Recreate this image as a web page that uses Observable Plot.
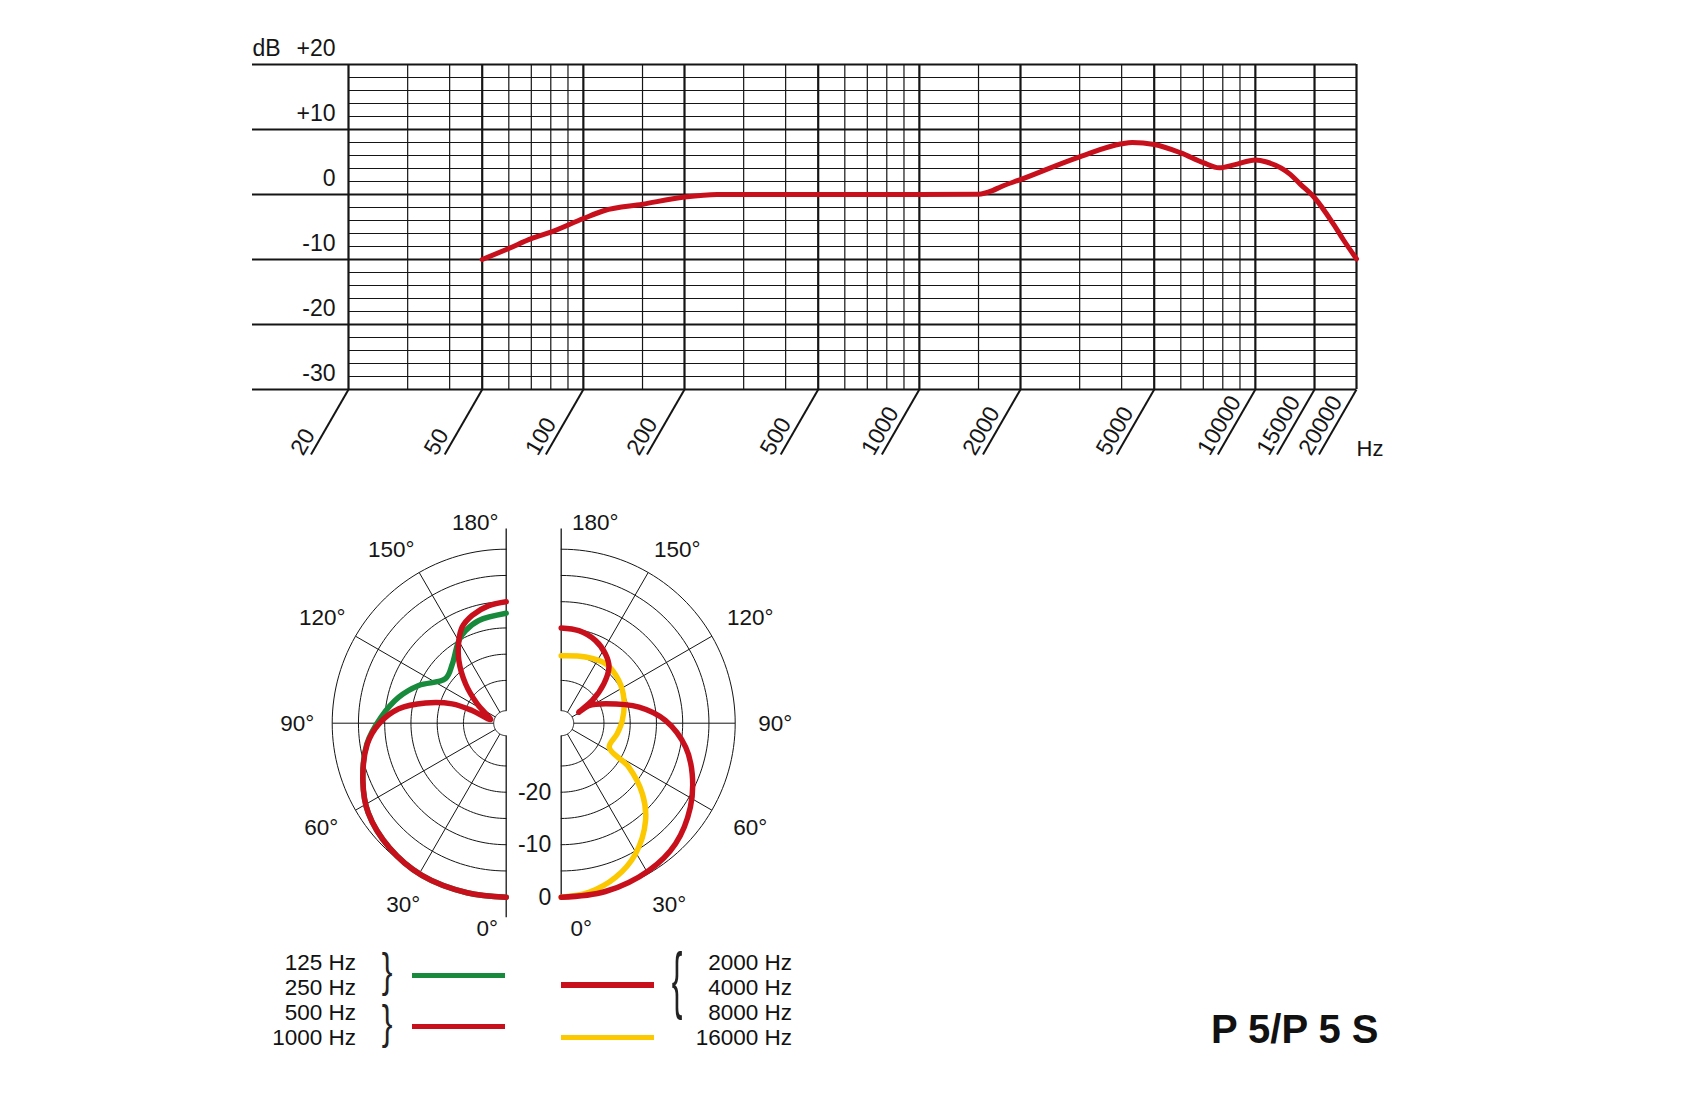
<!DOCTYPE html>
<html>
<head>
<meta charset="utf-8">
<script src="https://cdn.jsdelivr.net/npm/d3@7"></script>
<script src="https://cdn.jsdelivr.net/npm/@observablehq/plot@0.6"></script>
<style>
  body { margin: 0; background: #fff; font-family: "Liberation Sans", Arial, Helvetica, sans-serif; }
  #page { position: relative; width: 1700px; height: 1100px; overflow: hidden; background: #fff; }
  #top, #polar { position: absolute; left: 0; }
  #top { top: 0; }
  #polar { top: 480px; }
  .lg { position: absolute; font-size: 22.5px; line-height: 25px; color: #111; white-space: nowrap; }
  .sw { position: absolute; height: 5.5px; }
  .br { position: absolute; width: 20px; text-align: center; font-size: 32px; line-height: 32px; color: #222; }
  #title { position: absolute; left: 1211px; top: 1009px; font-size: 40px; line-height: 40px; font-weight: bold; color: #111; white-space: nowrap; }
</style>
</head>
<body>
<div id="page">
  <div id="top"></div>
  <div id="polar"></div>
</div>
<script>
// ---------------- data ----------------
// frequency response (Hz, dB)
const freqHz     = [50, 60, 70, 80, 100, 115, 150, 200, 250, 300, 500, 1000, 1500, 1650, 1750, 2000, 3000, 4000, 4300, 5000, 6000, 7000, 7800, 8700, 10000, 10800, 12700, 13600, 15000, 17100, 18300, 20000];
const responseDb = [-10, -8.3, -6.8, -5.8, -3.7, -2.5, -1.5, -0.4, 0, 0, 0, 0, 0.05, 0.6, 1.2, 2.3, 5.8, 7.8, 8.0, 7.7, 6.4, 4.9, 4.1, 4.6, 5.3, 5.0, 3.1, 1.6, -0.5, -4.6, -7.0, -9.9];

const dbTicks       = [20, 10, 0, -10, -20, -30];
const dbTickLabels  = ["+20", "+10", "0", "-10", "-20", "-30"];
const freqMajor     = [20, 50, 100, 200, 500, 1000, 2000, 5000, 10000, 15000, 20000];
const freqMajorLab  = ["20", "50", "100", "200", "500", "1000", "2000", "5000", "10000", "15000", "20000"];
const freqMinor     = [30, 40, 60, 70, 80, 90, 150, 300, 400, 600, 700, 800, 900, 1500, 3000, 4000, 6000, 7000, 8000, 9000];
const dbMinor       = [-28, -26, -24, -22, -18, -16, -14, -12, -8, -6, -4, -2, 2, 4, 6, 8, 12, 14, 16, 18];

// polar patterns (angle in degrees, level in dB)
// 125 / 250 Hz (green, left half)
const lowAngle  = [0, 13, 29, 43, 57, 68, 81.5, 92.8, 103.6, 113.3, 126.2, 137.7, 150.2, 156.3, 165.1, 180];
const lowDb     = [0, 0, 0, -0.6, -1.8, -3.7, -6.3, -9.3, -12.1, -15, -18.8, -17.9, -15, -13.9, -12.9, -12.2];
// 500 / 1000 Hz (red, left half)
const midAngle  = [0, 13, 29, 43, 57, 68, 81.5, 89.7, 97.6, 104.1, 109.7, 110.4, 103, 123.7, 134, 142.9, 150.2, 155.4, 162.5, 171.6, 180];
const midDb     = [0, 0, 0, -0.6, -1.8, -3.7, -6.4, -8.9, -12.5, -17.3, -22.2, -26.2, -30.1, -26.5, -22.4, -18.2, -15, -13, -11.6, -10.5, -10];
// 2000 / 4000 / 8000 Hz (red, right half)
const highAngle = [0, 14.7, 30.8, 43.5, 57, 68.9, 79.1, 91.5, 101.6, 113.6, 122.6, 122, 126.2, 132.7, 139.6, 147.4, 157.4, 169.2, 180];
const highDb    = [0, 0, -0.5, -1.5, -3.8, -6.4, -9.0, -13.3, -18, -23.9, -26.9, -29.2, -25.8, -22.1, -19.1, -17.5, -16.1, -15.2, -15];
// 16000 Hz (yellow, right half)
const topAngle  = [0, 9.3, 19.4, 29.6, 40.9, 48.9, 57, 63.3, 79.2, 92.5, 109.9, 126.5, 143.2, 159.8, 180];
const topDb     = [0, -0.5, -2, -4.5, -8.6, -12.6, -17.8, -22.9, -22.3, -21.5, -20.4, -19.5, -19, -19.7, -20.3];

const ringDb      = [0, -5, -10, -15, -20, -25];
const spokeAngles = [30, 60, 90, 120, 150];
const angleLabels = ["0°", "30°", "60°", "90°", "120°", "150°", "180°"];
const polarDbLabels = [-20, -10, 0];

const RED = "#c8101c", GREEN = "#178a3c", YELLOW = "#fcc800", INK = "#151515";
const FONT = "Liberation Sans, Arial, Helvetica, sans-serif";

// ---------------- frequency response ----------------
{
  const W = 1700, H = 470, X0 = 348, X1 = 1356, Y0 = 64, Y1 = 389;
  const pxPerDecade = (X1 - X0) / 3;
  const pxPerDb = (Y1 - Y0) / 50;
  const fLeft = 20 * Math.pow(10, -(X0 - 252) / pxPerDecade);       // 10 dB lines reach left
  const diagFactor = Math.pow(10, -37.5 / pxPerDecade);                // slanted tick foot
  const diagDb = -30 - 65 / pxPerDb;
  const resp = freqHz.map((f, i) => ({f, db: responseDb[i]}));

  const chart = Plot.plot({
    width: W, height: H,
    marginLeft: X0, marginRight: W - X1, marginTop: Y0, marginBottom: H - Y1,
    style: {fontFamily: FONT, background: "transparent", overflow: "visible"},
    x: {type: "log", domain: [20, 20000], axis: null},
    y: {domain: [-30, 20], axis: null},
    marks: [
      Plot.ruleY(dbMinor, {y: d => d, x1: 20, x2: 20000, stroke: INK, strokeWidth: 1.2}),
      Plot.ruleX(freqMinor, {x: d => d, y1: -30, y2: 20, stroke: INK, strokeWidth: 1.2}),
      Plot.ruleX(freqMajor, {x: d => d, y1: -30, y2: 20, stroke: INK, strokeWidth: 2.2}),
      Plot.ruleY(dbTicks, {y: d => d, x1: fLeft, x2: 20000, stroke: INK, strokeWidth: 2}),
      Plot.link(freqMajor, {x1: d => d, y1: -30, x2: d => d * diagFactor, y2: diagDb, stroke: INK, strokeWidth: 2}),
      Plot.text(freqMajor, {x: d => d, y: -30, text: (d, i) => freqMajorLab[i], rotate: -60, textAnchor: "start",
        lineAnchor: "middle", dx: -52, dy: 63.5, fontSize: 23, fill: INK, fontFamily: FONT}),
      Plot.text(dbTicks, {x: 20, y: d => d, text: (d, i) => dbTickLabels[i], textAnchor: "end",
        dx: -13, dy: -15.5, fontSize: 23, fill: INK, fontFamily: FONT}),
      Plot.text(["dB"], {x: fLeft, y: 20, text: d => d, textAnchor: "start", dy: -15.5, fontSize: 23, fill: INK, fontFamily: FONT}),
      Plot.text(["Hz"], {x: 20000, y: -30, text: d => d, textAnchor: "start", dy: 59, fontSize: 22, fill: INK, fontFamily: FONT}),
      Plot.line(resp, {x: "f", y: "db", stroke: RED, strokeWidth: 5, curve: "monotone-x", strokeLinecap: "round", strokeLinejoin: "round"})
    ]
  });
  document.getElementById("top").appendChild(chart);
}

// ---------------- polar patterns ----------------
{
  const PW = 900, PH = 620, PTOP = 480;
  const cxL = 505.7, cy = 722.7 - PTOP;   // centre of the left half (svg px)
  const k = 5.25;                          // px per dB
  const R0 = 174 / k;                      // 0 dB radius in dB units
  const hub = 12.5 / k;
  const off = 55 / k;                      // right half centre offset
  const rho = db => R0 + db;
  const rad = a => a * Math.PI / 180;
  const pt = (side, a, r) => side === "L"
    ? {x: -r * Math.sin(rad(a)), y: -r * Math.cos(rad(a))}
    : {x: off + r * Math.sin(rad(a)), y: -r * Math.cos(rad(a))};
  const series = (angles, dbs, side) => angles.map((a, i) => pt(side, a, rho(dbs[i])));

  const arcAngles = d3.range(0, 180.1, 2);
  const rings = [];
  for (const side of ["L", "R"]) {
    for (const db of ringDb) for (const a of arcAngles) rings.push({...pt(side, a, rho(db)), id: side + db});
    for (const a of arcAngles) rings.push({...pt(side, a, hub), id: side + "hub"});
  }
  const spokes = [];
  for (const side of ["L", "R"]) for (const a of spokeAngles) {
    const p1 = pt(side, a, hub), p2 = pt(side, a, R0);
    spokes.push({x1: p1.x, y1: p1.y, x2: p2.x, y2: p2.y});
  }
  const axes = [
    {x1: 0, y1: hub, x2: 0, y2: 194.7 / k},
    {x1: 0, y1: -hub, x2: 0, y2: -194 / k},
    {x1: off, y1: hub, x2: off, y2: 194.7 / k},
    {x1: off, y1: -hub, x2: off, y2: -175.5 / k}
  ];
  // label placement (px offsets from each half's centre, screen y down)
  const labOffL = [[-19, 206], [-103, 182], [-185, 105], [-209, 1], [-184, -105], [-115, -173], [-31, -200]];
  const labOffR = [[20, 206], [108, 182], [189, 105], [214, 1], [189, -105], [116, -173], [34, -200]];
  const angLabs = [];
  angleLabels.forEach((t, i) => {
    angLabs.push({x: labOffL[i][0] / k, y: -labOffL[i][1] / k, t});
    angLabs.push({x: off + labOffR[i][0] / k, y: -labOffR[i][1] / k, t});
  });

  const line = (data, color) => Plot.line(data, {x: "x", y: "y", stroke: color, strokeWidth: 5.5,
    curve: "catmull-rom", strokeLinecap: "round", strokeLinejoin: "round"});

  const chart = Plot.plot({
    width: PW, height: PH, margin: 0,
    style: {fontFamily: FONT, background: "transparent", overflow: "visible"},
    x: {domain: [-cxL / k, (PW - cxL) / k], range: [0, PW], axis: null},
    y: {domain: [-(PH - cy) / k, cy / k], range: [PH, 0], axis: null},
    marks: [
      Plot.line(rings, {x: "x", y: "y", z: "id", stroke: INK, strokeWidth: 1}),
      Plot.link(spokes, {x1: "x1", y1: "y1", x2: "x2", y2: "y2", stroke: INK, strokeWidth: 1}),
      Plot.link(axes, {x1: "x1", y1: "y1", x2: "x2", y2: "y2", stroke: INK, strokeWidth: 1.3}),
      Plot.text(angLabs, {x: "x", y: "y", text: "t", fontSize: 22.5, fill: INK, fontFamily: FONT}),
      Plot.text(polarDbLabels, {x: off, y: d => -rho(d), text: d => String(d), textAnchor: "end", dx: -10,
        fontSize: 23, fill: INK, fontFamily: FONT}),
      line(series(lowAngle, lowDb, "L"), GREEN),
      line(series(midAngle, midDb, "L"), RED),
      line(series(topAngle, topDb, "R"), YELLOW),
      line(series(highAngle, highDb, "R"), RED)
    ]
  });
  document.getElementById("polar").appendChild(chart);
}

// ---------------- legend & title ----------------
{
  const page = document.getElementById("page");
  const add = (html, cls, css) => { const d = document.createElement("div"); if (cls) d.className = cls; d.innerHTML = html; Object.assign(d.style, css); page.appendChild(d); return d; };
  const leftLabels  = ["125 Hz", "250 Hz", "500 Hz", "1000 Hz"];
  const rightLabels = ["2000 Hz", "4000 Hz", "8000 Hz", "16000 Hz"];
  const rowTop = [950, 974.7, 1000, 1025.2];
  leftLabels.forEach((t, i) => add(t, "lg", {left: "216px", width: "140px", textAlign: "right", top: rowTop[i] + "px"}));
  rightLabels.forEach((t, i) => add(t, "lg", {left: "632px", width: "160px", textAlign: "right", top: rowTop[i] + "px"}));
  add("", "sw", {left: "412px", width: "93px", top: "972.6px", background: GREEN});
  add("", "sw", {left: "412px", width: "93px", top: "1023.6px", background: RED});
  add("", "sw", {left: "561px", width: "93px", top: "982.4px", background: RED});
  add("", "sw", {left: "561px", width: "93px", top: "1034.5px", background: YELLOW});
  add("}", "br", {left: "377px", top: "953.8px", transform: "scale(1.0,1.44)"});
  add("}", "br", {left: "377px", top: "1005.8px", transform: "scale(1.0,1.44)"});
  add("{", "br", {left: "667px", top: "964.4px", transform: "scale(1.0,2.3)"});
  add("P 5/P 5 S", "", {}).id = "title";
}
</script>
</body>
</html>
